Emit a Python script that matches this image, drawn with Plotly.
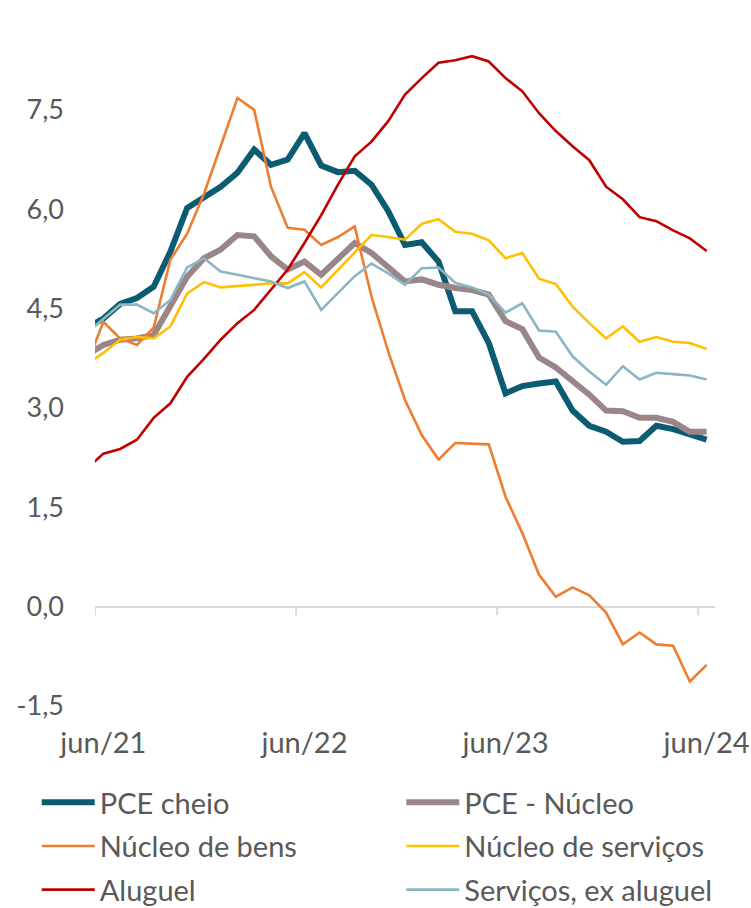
import plotly.graph_objects as go

# categories: mai/21 (partly clipped at left edge) then jun/21 ... jun/24
months = ["mai/21",
          "jun/21", "jul/21", "ago/21", "set/21", "out/21", "nov/21", "dez/21",
          "jan/22", "fev/22", "mar/22", "abr/22", "mai/22", "jun/22", "jul/22",
          "ago/22", "set/22", "out/22", "nov/22", "dez/22", "jan/23", "fev/23",
          "mar/23", "abr/23", "mai/23", "jun/23", "jul/23", "ago/23", "set/23",
          "out/23", "nov/23", "dez/23", "jan/24", "fev/24", "mar/24", "abr/24",
          "mai/24", "jun/24"]

pce_cheio = [4.21, 4.35, 4.57, 4.66, 4.83, 5.36, 6.02, 6.19, 6.34, 6.55, 6.90, 6.67, 6.75,
             7.15, 6.66, 6.56, 6.58, 6.37, 5.97, 5.46, 5.50, 5.21, 4.46, 4.46, 3.98,
             3.22, 3.33, 3.37, 3.40, 2.96, 2.73, 2.64, 2.49, 2.50, 2.73, 2.68, 2.61, 2.52]
pce_nucleo = [3.80, 3.95, 4.03, 4.05, 4.10, 4.53, 4.98, 5.26, 5.39, 5.61, 5.59, 5.29, 5.09,
              5.21, 5.01, 5.25, 5.49, 5.34, 5.12, 4.91, 4.94, 4.86, 4.81, 4.78, 4.71,
              4.31, 4.19, 3.76, 3.61, 3.40, 3.20, 2.96, 2.95, 2.85, 2.85, 2.79, 2.64, 2.64]
nucleo_bens = [3.65, 4.30, 4.05, 3.95, 4.21, 5.24, 5.63, 6.23, 6.95, 7.68, 7.50, 6.34, 5.72,
               5.69, 5.46, 5.58, 5.74, 4.68, 3.85, 3.12, 2.59, 2.22, 2.47, 2.46, 2.45,
               1.66, 1.11, 0.48, 0.15, 0.29, 0.17, -0.09, -0.57, -0.39, -0.57, -0.59, -1.13, -0.88]
nucleo_servicos = [3.66, 3.83, 4.03, 4.07, 4.05, 4.23, 4.73, 4.90, 4.82, 4.84, 4.86, 4.88, 4.88,
                   5.05, 4.82, 5.08, 5.35, 5.61, 5.58, 5.54, 5.78, 5.85, 5.66, 5.63, 5.53,
                   5.26, 5.34, 4.95, 4.87, 4.53, 4.28, 4.05, 4.23, 4.00, 4.07, 4.00, 3.98, 3.89]
aluguel = [2.08, 2.31, 2.38, 2.52, 2.85, 3.07, 3.47, 3.74, 4.03, 4.28, 4.48, 4.78, 5.09,
           5.49, 5.91, 6.37, 6.80, 7.02, 7.33, 7.73, 7.98, 8.21, 8.25, 8.31, 8.23,
           7.98, 7.78, 7.45, 7.18, 6.95, 6.74, 6.34, 6.15, 5.88, 5.82, 5.68, 5.56, 5.37]
servicos_ex_aluguel = [4.13, 4.34, 4.56, 4.56, 4.43, 4.63, 5.12, 5.26, 5.06, 5.01, 4.96, 4.91, 4.81,
                       4.91, 4.48, 4.73, 4.99, 5.18, 5.03, 4.86, 5.11, 5.12, 4.89, 4.82, 4.71,
                       4.44, 4.58, 4.17, 4.15, 3.78, 3.55, 3.35, 3.63, 3.43, 3.53, 3.51, 3.49, 3.43]

series_names = ["PCE cheio", "PCE - Núcleo", "Núcleo de bens",
                "Núcleo de serviços", "Aluguel", "Serviços, ex aluguel"]
series_values = [pce_cheio, pce_nucleo, nucleo_bens, nucleo_servicos, aluguel, servicos_ex_aluguel]
series_colors = ["#0b5c72", "#9a8689", "#ed7d31", "#ffc000", "#c00000", "#8bb6c3"]
series_widths = [6, 6, 2.6, 2.6, 2.6, 2.6]
series_legend = ["legend", "legend2", "legend", "legend2", "legend", "legend2"]

tick_labels = ["jun/21", "jun/22", "jun/23", "jun/24"]
y_ticks = [-1.5, 0.0, 1.5, 3.0, 4.5, 6.0, 7.5]
y_tick_labels = ["-1,5", "0,0", "1,5", "3,0", "4,5", "6,0", "7,5"]

# numeric positions: jun/21 = 0
xpos = list(range(-1, len(months) - 1))
tick_pos = [xpos[months.index(t)] for t in tick_labels]

fig = go.Figure()
for i, (name, vals, col, w, lg) in enumerate(zip(series_names, series_values, series_colors,
                                                 series_widths, series_legend)):
    fig.add_trace(go.Scatter(x=xpos, y=vals, mode="lines", name=name,
                             line=dict(color=col, width=w), legend=lg,
                             legendgroup="g%d" % i, cliponaxis=True))

FONT = "Lato"
GRAY = "#595959"

# category-boundary tick marks on the zero line
for tp in tick_pos:
    fig.add_shape(type="line", xref="x", yref="y", x0=tp - 0.5, x1=tp - 0.5,
                  y0=0, y1=-0.13, line=dict(color="#d9d9d9", width=2))

legend_common = dict(orientation="v", yanchor="top", xanchor="left",
                     itemwidth=53, font=dict(size=29, color=GRAY, family=FONT),
                     traceorder="grouped", tracegroupgap=3, bgcolor="rgba(0,0,0,0)")

fig.update_layout(
    width=751, height=908,
    margin=dict(l=95, r=36, t=37, b=202, autoexpand=False),
    paper_bgcolor="white", plot_bgcolor="white",
    font=dict(family=FONT, size=26, color=GRAY),
    showlegend=True,
    legend=dict(x=-0.094, y=-0.106, **legend_common),
    legend2=dict(x=0.494, y=-0.106, **legend_common),
    xaxis=dict(range=[-0.5, 36.5], tickvals=tick_pos, ticktext=tick_labels,
               showgrid=False, zeroline=False, showline=False, ticks="",
               tickfont=dict(size=29, color=GRAY), ticklabelstandoff=17),
    yaxis=dict(range=[-1.5, 8.6], tickvals=y_ticks, ticktext=y_tick_labels,
               showgrid=False, zeroline=True, zerolinecolor="#d9d9d9", zerolinewidth=2,
               showline=False, ticks="", tickfont=dict(size=27, color=GRAY),
               ticklabelstandoff=30),
)

fig.write_html("out.html", config={"displayModeBar": False},
               post_script="document.body.style.margin='0px';")
